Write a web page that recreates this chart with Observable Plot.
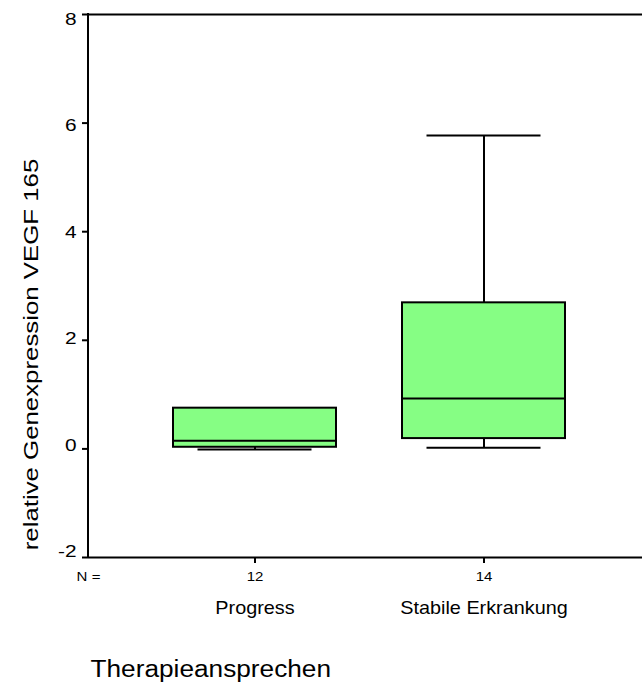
<!DOCTYPE html>
<html>
<head>
<meta charset="utf-8">
<script src="https://cdn.jsdelivr.net/npm/d3@7"></script>
<script src="https://cdn.jsdelivr.net/npm/@observablehq/plot@0.6"></script>
<style>
  html, body { margin: 0; padding: 0; background: #fff; overflow: hidden; }
  #chart { width: 642px; height: 684px; overflow: hidden; }
  #chart svg { display: block; max-width: none; }
</style>
</head>
<body>
<div id="chart"></div>
<script>
// Box-plot summaries of VEGF 165 expression by therapy response
const groups = ["Progress", "Stabile Erkrankung"];
const counts = [12, 14];
const whiskerLow = [-0.01, 0.02];
const quartile1 = [0.03, 0.19];
const medians = [0.15, 0.93];
const quartile3 = [0.75, 2.69];
const whiskerHigh = [0.75, 5.77];
const yTicks = [-2, 0, 2, 4, 6, 8];

const boxes = groups.map((g, i) => ({
  group: g, n: counts[i],
  lo: whiskerLow[i], q1: quartile1[i], med: medians[i], q3: quartile3[i], hi: whiskerHigh[i]
}));
const nByGroup = new Map(boxes.map(d => [d.group, d.n]));

const font = "'Liberation Sans', Arial, Helvetica, sans-serif";
const ink = "#000";
const boxFill = "#86fe84";
const marginLeft = 88;

// The plot area runs on past the right edge of the 642px page; the
// container crops it there.
const plot = Plot.plot({
  width: 670,
  height: 684,
  marginLeft,
  marginRight: 20,
  marginTop: 14,
  marginBottom: 127,
  style: { fontFamily: font, background: "#fff", color: "#000" },
  x: { type: "band", domain: groups, paddingInner: 0.288, paddingOuter: 0.371 },
  y: { domain: [-2, 8] },
  marks: [
    // whiskers
    Plot.ruleX(boxes, { x: "group", y1: "lo", y2: "q1", stroke: ink, strokeWidth: 2 }),
    Plot.ruleX(boxes, { x: "group", y1: "q3", y2: "hi", stroke: ink, strokeWidth: 2 }),
    Plot.tickY(boxes, { x: "group", y: "lo", insetLeft: 24.5, insetRight: 24.5, stroke: ink, strokeWidth: 2 }),
    Plot.tickY(boxes, { x: "group", y: "hi", insetLeft: 24.5, insetRight: 24.5, stroke: ink, strokeWidth: 2 }),
    // interquartile boxes and medians
    Plot.barY(boxes, { x: "group", y1: "q1", y2: "q3", fill: boxFill, stroke: ink, strokeWidth: 2 }),
    Plot.tickY(boxes, { x: "group", y: "med", stroke: ink, strokeWidth: 2 }),
    // top and bottom edges of the plot area
    Plot.ruleY([-2, 8], { stroke: ink, strokeWidth: 2 }),
    // axes
    Plot.axisY({ ticks: yTicks, tickFormat: d => String(d), tickSize: 6, tickPadding: 6,
                 fontSize: 16, stroke: ink, strokeWidth: 2, label: null }),
    Plot.axisX({ tickSize: 6, tickPadding: 9, fontSize: 12.5, stroke: ink, strokeWidth: 2,
                 tickFormat: g => String(nByGroup.get(g)), label: null }),
    Plot.axisX({ tickSize: 0, tickPadding: 43.7, fontSize: 17.7, label: null }),
    // extra labels
    Plot.text(["N ="], { frameAnchor: "bottom-left", dy: 19, fontSize: 12.5, textAnchor: "middle", lineAnchor: "middle" }),
    Plot.text(["Therapieansprechen"], { frameAnchor: "bottom-left", dx: 2, dy: 119.7, fontSize: 23, textAnchor: "start", lineAnchor: "bottom" }),
    Plot.text(["relative Genexpression VEGF 165"], { frameAnchor: "left", dx: -51, dy: 68.5, rotate: -90, fontSize: 20, textAnchor: "middle", lineAnchor: "bottom" })
  ]
});

document.getElementById("chart").appendChild(plot);
const svg = d3.select(plot);

// left edge of the plot area, drawn along the y scale's full extent
const y = plot.scale("y");
svg.append("line")
  .attr("x1", marginLeft).attr("x2", marginLeft)
  .attr("y1", y.apply(y.domain[1]) - 1).attr("y2", y.apply(y.domain[0]) + 1)
  .attr("stroke", ink).attr("stroke-width", 2);

// The lettering is set wide: stretch each label along its own direction
function widen(sel, size, k) {
  sel.each(function () {
    this.setAttribute("font-size", size);
    const len = this.getComputedTextLength();
    this.setAttribute("textLength", (len * k).toFixed(1));
    this.setAttribute("lengthAdjust", "spacingAndGlyphs");
  });
}
const yLabels = svg.selectAll('g[aria-label="y-axis tick label"] text');
widen(yLabels, 16, 1.3);
// value labels sit on a slightly tighter spacing than the ticks themselves
yLabels.each(function () {
  const v = +this.textContent;
  const off = 5 - (8 - v) * 1.06;
  this.setAttribute("transform", (this.getAttribute("transform") || "") + ` translate(0,${off.toFixed(1)})`);
});
const xLabels = svg.selectAll('g[aria-label="x-axis tick label"] text');
widen(xLabels.filter(function () { return /^\d+$/.test(this.textContent); }), 12.5, 1.2);
widen(xLabels.filter(function () { return !/^\d+$/.test(this.textContent); }), 17.7, 1.12);
svg.selectAll('g[aria-label="text"] text').each(function () {
  const t = this.textContent;
  if (t === "N =") widen(d3.select(this), 12.5, 1.2);
  else if (t === "Therapieansprechen") widen(d3.select(this), 23, 1.14);
  else widen(d3.select(this), 20, 1.29);
});
</script>
</body>
</html>
